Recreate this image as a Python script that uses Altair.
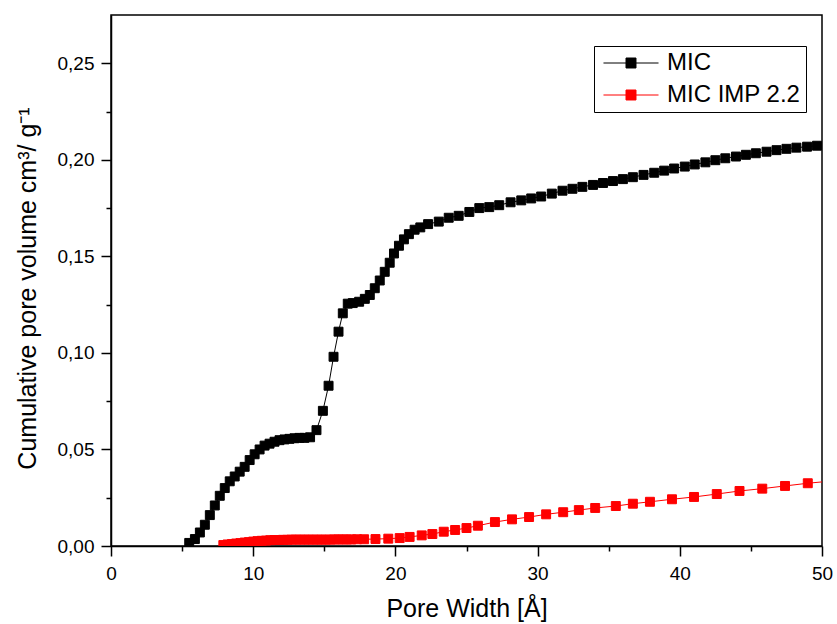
import altair as alt
import pandas as pd

# MIC series (black)
mic_x = [5.5, 5.9, 6.25, 6.6, 6.95, 7.3, 7.65, 8.0, 8.35, 8.7, 9.05, 9.4, 9.75, 10.1, 10.45,
         10.8, 11.15, 11.5, 11.85, 12.2, 12.55, 12.9, 13.25, 13.6, 14.0, 14.45, 14.9, 15.3,
         15.65, 16.0, 16.3, 16.65, 17.0, 17.45, 17.85, 18.2, 18.55, 18.9, 19.25, 19.6, 19.9,
         20.25, 20.6, 20.95, 21.35, 21.75, 22.3, 23.05, 23.75, 24.45, 25.2, 25.9, 26.6, 27.3,
         28.1, 28.85, 29.55, 30.25, 31.0, 31.75, 32.45, 33.15, 33.9, 34.6, 35.3, 36.0, 36.7,
         37.45, 38.2, 38.9, 39.6, 40.35, 41.05, 41.8, 42.5, 43.2, 43.95, 44.65, 45.35, 46.1,
         46.8, 47.5, 48.2, 48.95, 49.65, 50.4]
mic_y = [0.0016, 0.0036, 0.007, 0.011, 0.016, 0.021, 0.026, 0.030, 0.0335, 0.036, 0.0385,
         0.041, 0.0445, 0.0475, 0.050, 0.052, 0.053, 0.054, 0.0548, 0.0552, 0.0555, 0.0558,
         0.056, 0.056, 0.0563, 0.060, 0.070, 0.083, 0.098, 0.111, 0.1205, 0.1255, 0.1258,
         0.1265, 0.128, 0.130, 0.1335, 0.1375, 0.142, 0.1467, 0.1515, 0.1555, 0.1588, 0.1615,
         0.1638, 0.165, 0.1667, 0.168, 0.170, 0.171, 0.173, 0.175, 0.1755, 0.1765, 0.178,
         0.179, 0.180, 0.181, 0.1825, 0.184, 0.185, 0.186, 0.187, 0.188, 0.189, 0.190, 0.191,
         0.1922, 0.1933, 0.1944, 0.1955, 0.1965, 0.1976, 0.1987, 0.1998, 0.2008, 0.2017,
         0.2026, 0.2034, 0.2042, 0.2050, 0.2057, 0.2063, 0.2068, 0.2073, 0.2078]

# MIC IMP 2.2 series (red)
imp_x = [7.9, 8.2, 8.5, 8.8, 9.1, 9.4, 9.7, 10.0, 10.3, 10.6, 10.9, 11.2, 11.5, 11.8, 12.1,
         12.4, 12.7, 13.0, 13.3, 13.6, 13.9, 14.2, 14.5, 14.8, 15.1, 15.4, 15.7, 16.0, 16.3,
         16.6, 16.9, 17.3, 17.8, 18.6, 19.5, 20.3, 21.0, 21.85, 22.6, 23.4, 24.2, 25.0, 25.8,
         27.0, 28.2, 29.4, 30.6, 31.8, 32.9, 34.05, 35.5, 36.7, 37.9, 39.45, 41.0, 42.6, 44.2,
         45.8, 47.4, 49.0, 50.6]
imp_y = [0.0005, 0.0008, 0.0010, 0.0013, 0.0015, 0.0018, 0.0020, 0.0023, 0.0025, 0.0027,
         0.0028, 0.0030, 0.0031, 0.0031, 0.0032, 0.0032, 0.0033, 0.0033, 0.0033, 0.0033,
         0.0033, 0.0033, 0.0033, 0.0033, 0.0033, 0.0033, 0.0034, 0.0034, 0.0034, 0.0034,
         0.0034, 0.0035, 0.0035, 0.0036, 0.0038, 0.0041, 0.0047, 0.0055, 0.0062, 0.0074,
         0.0083, 0.0093, 0.0105, 0.0124, 0.0138, 0.0150, 0.0164, 0.0175, 0.0186, 0.0197,
         0.0207, 0.0219, 0.0229, 0.0242, 0.0254, 0.0269, 0.0285, 0.0297, 0.0311, 0.0325,
         0.0336]

series_names = ["MIC", "MIC IMP 2.2"]
series_colors = ["#000000", "#FF0000"]

df = pd.concat([
    pd.DataFrame({"x": mic_x, "y": mic_y, "series": series_names[0], "order": range(len(mic_x))}),
    pd.DataFrame({"x": imp_x, "y": imp_y, "series": series_names[1], "order": range(len(imp_x))}),
])

FONT = "Liberation Sans"

x_enc = alt.X("x:Q",
              scale=alt.Scale(domain=[0, 50], nice=False, zero=False),
              axis=alt.Axis(values=list(range(0, 51, 5)),
                            labelExpr="datum.value % 10 == 0 ? format(datum.value, 'd') : ''",
                            tickSize={"condition": {"test": "datum.value % 10 == 0", "value": 10}, "value": 5},
                            title="Pore Width [Å]", grid=False, labelFlush=False))
y_enc = alt.Y("y:Q",
              scale=alt.Scale(domain=[0, 0.275], nice=False),
              axis=alt.Axis(values=[round(i * 0.025, 3) for i in range(11)],
                            labelExpr="round(datum.value*1000) % 50 == 0 ? replace(format(datum.value, '.2f'), '.', ',') : ''",
                            tickSize={"condition": {"test": "round(datum.value*1000) % 50 == 0", "value": 10}, "value": 5},
                            title="Cumulative pore volume cm³/ g⁻¹", titleY=273,
                            grid=False, labelFlush=False))

sq = "M -3.2 0 L 3.2 0 M -0.58 -0.58 L 0.58 -0.58 L 0.58 0.58 L -0.58 0.58 Z"

legend = alt.Legend(title=None, orient="none", legendX=483, legendY=31,
                    symbolType=sq, symbolSize=296, symbolStrokeWidth=1, symbolOffset=20,
                    labelFontSize=24, labelFont=FONT, labelColor="black",
                    strokeColor="black", fillColor="white", padding=5,
                    rowPadding=8, labelOffset=24, symbolOpacity=1)
cscale = alt.Scale(domain=series_names, range=series_colors)

lines = alt.Chart(df).mark_line(strokeWidth=1, clip=True).encode(
    x=x_enc, y=y_enc,
    stroke=alt.Stroke("series:N", scale=cscale, legend=legend),
    order="order:Q",
)

points = alt.Chart(df).mark_point(shape="square", filled=True, size=80, opacity=1,
                                  strokeWidth=1, clip=True).encode(
    x=x_enc, y=y_enc,
    fill=alt.Fill("series:N", scale=cscale, legend=legend),
    stroke=alt.Stroke("series:N", scale=cscale, legend=legend),
)

chart = alt.layer(lines, points).properties(
    width=711, height=531,
    autosize=alt.AutoSizeParams(type="none"),
    padding={"left": 111, "top": 15, "right": 15, "bottom": 78},
).configure_view(
    stroke="black", strokeWidth=1.5
).configure_axis(
    labelFont=FONT, titleFont=FONT, labelFontSize=19, titleFontSize=25,
    labelColor="black", titleColor="black", titleFontWeight="normal",
    domainColor="black", domainWidth=1.5, tickColor="black", tickWidth=1.5,
).configure_axisY(titlePadding=17, labelPadding=7).configure_axisX(titlePadding=13, labelPadding=8)

chart.save("out.html", embed_options={"renderer": "svg", "actions": False})
